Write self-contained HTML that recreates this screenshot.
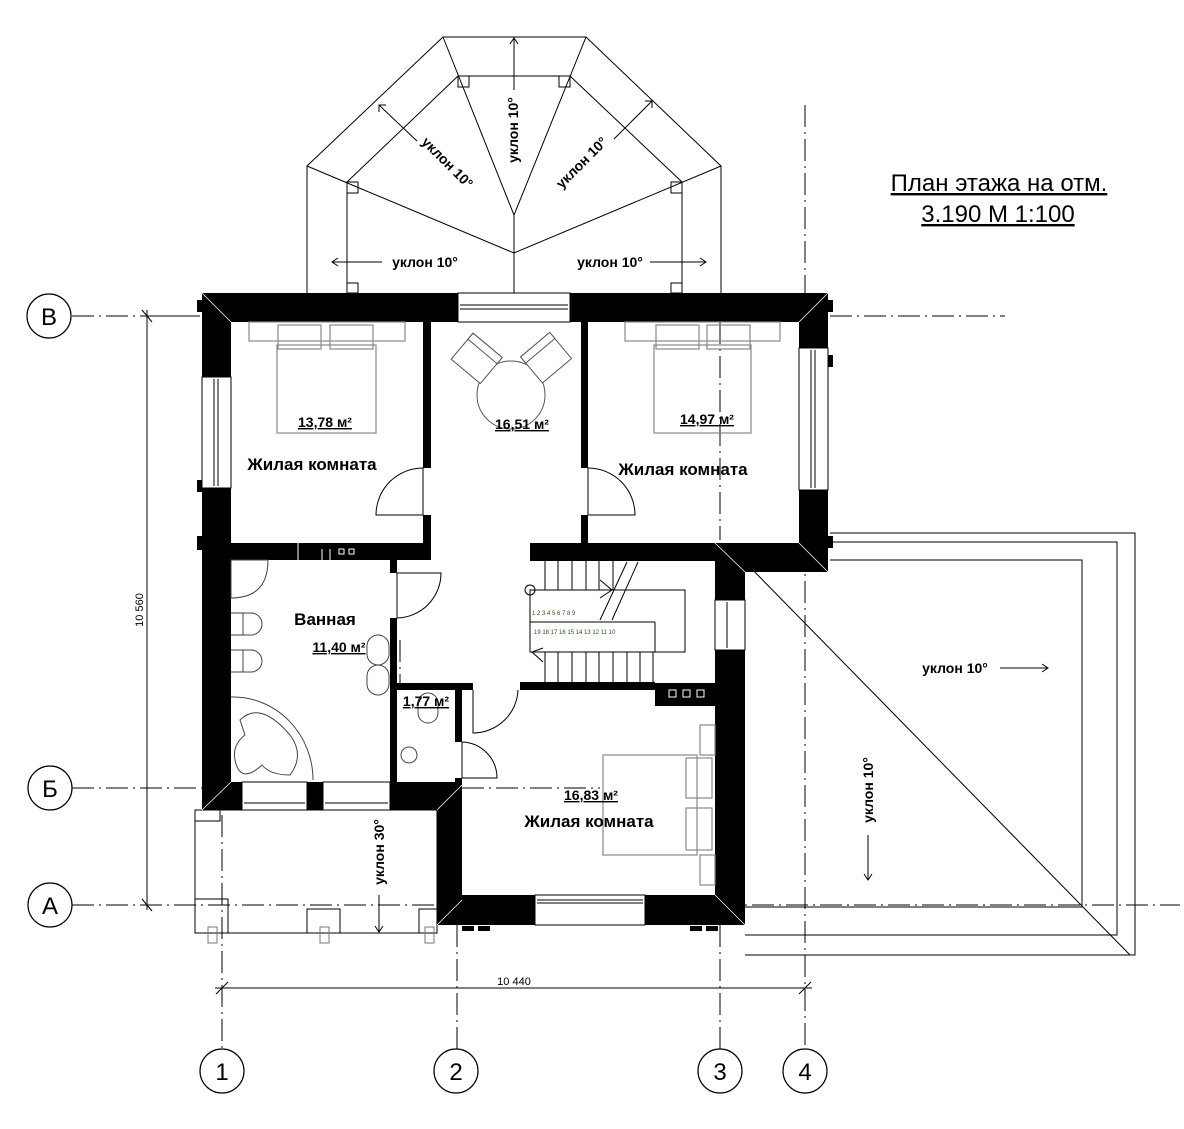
<!DOCTYPE html>
<html><head><meta charset="utf-8"><style>
html,body{margin:0;padding:0;background:#fff;}
svg{display:block;}
text{font-family:"Liberation Sans",sans-serif;}
.lb{font-weight:bold;font-size:17px;}
.ar{font-weight:bold;font-size:14px;text-decoration:underline;}
.ul{font-size:14px;font-weight:bold;}
</style></head><body>
<svg width="1184" height="1129" viewBox="0 0 1184 1129" xmlns="http://www.w3.org/2000/svg">
<rect width="1184" height="1129" fill="#fff"/>
<g stroke="#000" stroke-width="1" stroke-dasharray="22,5,2,5" fill="none">
<line x1="72" y1="316" x2="200" y2="316"/><line x1="830" y1="316" x2="1005" y2="316"/>
<line x1="72" y1="788" x2="205" y2="788"/><line x1="462" y1="788" x2="600" y2="788"/>
<line x1="72" y1="905" x2="1180" y2="905"/>
<line x1="222" y1="815" x2="222" y2="1050"/>
<line x1="457" y1="925" x2="457" y2="1050"/>
<line x1="720" y1="322" x2="720" y2="540"/><line x1="720" y1="925" x2="720" y2="1050"/>
<line x1="805" y1="105" x2="805" y2="1050"/>
<line x1="400" y1="640" x2="400" y2="690"/>
</g>
<g fill="#fff" stroke="#000" stroke-width="1.2">
<circle cx="49" cy="316" r="22"/><circle cx="50" cy="788" r="22"/><circle cx="50" cy="905" r="22"/>
<circle cx="222" cy="1071" r="22"/><circle cx="456" cy="1071" r="22"/><circle cx="720" cy="1071" r="22"/><circle cx="805" cy="1071" r="22"/>
</g>
<g font-size="24" text-anchor="middle" font-family="Liberation Sans">
<text x="49" y="325">В</text><text x="50" y="797">Б</text><text x="50" y="914">А</text>
<text x="222" y="1080">1</text><text x="456" y="1080">2</text><text x="720" y="1080">3</text><text x="805" y="1080">4</text>
</g>
<g stroke="#000" stroke-width="1">
<line x1="147" y1="310" x2="147" y2="910"/><line x1="140" y1="316" x2="200" y2="316"/>
<line x1="142" y1="310" x2="152" y2="322"/><line x1="142" y1="899" x2="152" y2="911"/>
<line x1="215" y1="988" x2="812" y2="988"/>
<line x1="216" y1="994" x2="228" y2="982"/><line x1="799" y1="994" x2="811" y2="982"/>
</g>
<text x="143" y="610" font-size="11" text-anchor="middle" transform="rotate(-90 143 610)">10 560</text>
<text x="514" y="985" font-size="11" text-anchor="middle">10 440</text>
<text x="999" y="191" font-size="24" text-anchor="middle" text-decoration="underline">План  этажа на отм.</text>
<text x="998" y="222" font-size="24" text-anchor="middle" text-decoration="underline">3.190 М 1:100</text>
<g stroke="#000" stroke-width="1" fill="none">
<polyline points="307,293 307,166 443,37 586,37 721,166 721,293"/>
<polyline points="347,293 347,182 458,76 570,76 682,182 682,293"/>
<polyline points="307,166 514,253 721,166"/>
<polyline points="443,37 514,215 586,37"/>
<line x1="514" y1="215" x2="514" y2="293"/>
<rect x="347" y="182" width="11" height="11"/><rect x="671" y="182" width="11" height="11"/>
<rect x="458" y="76" width="11" height="11"/><rect x="559" y="76" width="11" height="11"/>
<rect x="347" y="283" width="11" height="10"/><rect x="671" y="283" width="11" height="10"/>
<line x1="514" y1="90" x2="514" y2="38"/><polyline points="510,44 514,38 518,44"/>
<line x1="417" y1="141" x2="379" y2="105"/><polyline points="379,112 379,105 386,105"/>
<line x1="614" y1="139" x2="652" y2="101"/><polyline points="645,101 652,101 652,108"/>
<line x1="382" y1="262" x2="332" y2="262"/><polyline points="338,258 332,262 338,266"/>
<line x1="650" y1="262" x2="706" y2="262"/><polyline points="700,258 706,262 700,266"/>
</g>
<text class="ul" x="518" y="130" text-anchor="middle" transform="rotate(-90 518 130)">уклон 10°</text>
<text class="ul" x="444" y="166" text-anchor="middle" transform="rotate(45 444 166)">уклон 10°</text>
<text class="ul" x="585" y="166" text-anchor="middle" transform="rotate(-45 585 166)">уклон 10°</text>
<text class="ul" x="425" y="267" text-anchor="middle">уклон 10°</text>
<text class="ul" x="610" y="267" text-anchor="middle">уклон 10°</text>
<g stroke="#000" stroke-width="1" fill="none">
<polyline points="830,533 1135,533 1135,955 745,955"/>
<polyline points="830,542 1117,542 1117,935 745,935"/>
<polyline points="830,560 1082,560 1082,907 745,907"/>
<line x1="745" y1="562" x2="1130" y2="955"/>
<line x1="1000" y1="668" x2="1048" y2="668"/><polyline points="1042,664 1048,668 1042,672"/>
<line x1="868" y1="835" x2="868" y2="880"/><polyline points="864,874 868,880 872,874"/>
</g>
<text class="ul" x="955" y="673" text-anchor="middle">уклон 10°</text>
<text class="ul" x="873" y="790" text-anchor="middle" transform="rotate(-90 873 790)">уклон 10°</text>
<g stroke="#000" stroke-width="1" fill="none">
<rect x="195" y="810" width="242" height="123"/>
<rect x="195" y="810" width="25" height="11"/>
<rect x="195" y="899" width="33" height="34"/>
<rect x="307" y="909" width="33" height="24"/>
<rect x="419" y="909" width="18" height="24"/>
<g stroke="#777"><rect x="208" y="927" width="9" height="16"/><rect x="320" y="927" width="9" height="16"/><rect x="425" y="927" width="9" height="16"/></g>
<line x1="379" y1="895" x2="379" y2="932"/><polyline points="375,926 379,932 383,926"/>
</g>
<text class="ul" x="384" y="852" text-anchor="middle" transform="rotate(-90 384 852)">уклон 30°</text>
<g fill="#000">
<rect x="202" y="293" width="256" height="29"/><rect x="570" y="293" width="258" height="29"/>
<rect x="202" y="293" width="29" height="84"/><rect x="202" y="488" width="29" height="322"/>
<rect x="799" y="293" width="29" height="55"/><rect x="799" y="490" width="29" height="82"/>
<rect x="715" y="543" width="113" height="29"/>
<rect x="715" y="543" width="30" height="57"/><rect x="715" y="650" width="30" height="275"/>
<rect x="423" y="322" width="8" height="146"/><rect x="423" y="515" width="8" height="45"/>
<rect x="581" y="322" width="7" height="146"/><rect x="581" y="515" width="7" height="30"/>
<rect x="231" y="543" width="200" height="17"/>
<rect x="530" y="543" width="190" height="18"/>
<rect x="390" y="557" width="7" height="16"/><rect x="390" y="618" width="7" height="172"/>
<rect x="390" y="683" width="83" height="7"/><rect x="520" y="682" width="135" height="8"/>
<rect x="655" y="683" width="60" height="23"/>
<rect x="455" y="690" width="7" height="52"/><rect x="455" y="778" width="7" height="12"/>
<rect x="202" y="782" width="40" height="28"/><rect x="307" y="782" width="16" height="28"/><rect x="390" y="782" width="72" height="28"/>
<rect x="437" y="782" width="25" height="143"/>
<rect x="437" y="895" width="98" height="30"/><rect x="645" y="895" width="100" height="30"/>
</g>
<g stroke="#fff" stroke-width="0.8">
<line x1="202" y1="293" x2="231" y2="322"/><line x1="828" y1="293" x2="799" y2="322"/>
<line x1="828" y1="572" x2="799" y2="543"/><line x1="715" y1="543" x2="745" y2="572"/>
<line x1="437" y1="925" x2="462" y2="900"/><line x1="745" y1="925" x2="715" y2="895"/>
<line x1="437" y1="810" x2="462" y2="785"/><line x1="202" y1="810" x2="231" y2="782"/>
</g>
<g fill="none" stroke="#fff" stroke-width="1">
<line x1="298" y1="543" x2="298" y2="560"/><line x1="322" y1="549" x2="322" y2="560"/><line x1="330" y1="549" x2="330" y2="560"/>
<rect x="339" y="549" width="5" height="5"/><rect x="349" y="549" width="5" height="5"/>
<rect x="669" y="690" width="7" height="7"/><rect x="683" y="690" width="7" height="7"/><rect x="697" y="690" width="7" height="7"/>
</g>
<g stroke="#000" stroke-width="1" fill="#fff">
<rect x="458" y="293" width="112" height="29"/><line x1="460" y1="305" x2="568" y2="305"/><line x1="460" y1="309" x2="568" y2="309"/>
<rect x="202" y="377" width="29" height="111"/><line x1="214" y1="379" x2="214" y2="486"/><line x1="218" y1="379" x2="218" y2="486"/>
<rect x="799" y="348" width="29" height="142"/><line x1="811" y1="350" x2="811" y2="488"/><line x1="815" y1="350" x2="815" y2="488"/>
<rect x="715" y="600" width="30" height="50"/><line x1="727" y1="602" x2="727" y2="648"/>
<rect x="535" y="895" width="110" height="30"/><line x1="537" y1="900" x2="643" y2="900"/><line x1="537" y1="903" x2="643" y2="903"/>
<rect x="242" y="782" width="65" height="28"/><line x1="244" y1="803" x2="305" y2="803"/>
<rect x="323" y="782" width="67" height="28"/><line x1="325" y1="803" x2="388" y2="803"/>
</g>
<g fill="#000"><rect x="197" y="300" width="5" height="12"/><rect x="197" y="480" width="5" height="12"/><rect x="197" y="536" width="5" height="14"/><rect x="828" y="300" width="5" height="12"/><rect x="828" y="355" width="5" height="12"/><rect x="828" y="536" width="5" height="12"/>
<rect x="462" y="926" width="12" height="5"/><rect x="478" y="926" width="12" height="5"/><rect x="690" y="926" width="12" height="5"/><rect x="706" y="926" width="12" height="5"/></g>
<g stroke="#000" stroke-width="1" fill="none">
<path d="M423,468 A47,47 0 0 0 376,515 L423,515"/><line x1="423" y1="468" x2="423" y2="515"/>
<path d="M588,468 A47,47 0 0 1 635,515 L588,515"/><line x1="588" y1="468" x2="588" y2="515"/>
<path d="M397,573 L441,573 A45,45 0 0 1 397,618"/><line x1="397" y1="573" x2="397" y2="618"/>
<path d="M473,690 L473,733 A45,45 0 0 0 518,690"/>
<path d="M462,742 A36,36 0 0 1 497,778 L462,778"/><line x1="462" y1="742" x2="462" y2="778"/>
</g>
<g stroke="#888" stroke-width="1.2" fill="none">
<rect x="249" y="322" width="156" height="19"/>
<rect x="278" y="325" width="43" height="24"/><rect x="330" y="325" width="43" height="24"/>
<rect x="277" y="345" width="99" height="88"/>
<rect x="625" y="322" width="155" height="19"/>
<rect x="656" y="325" width="43" height="24"/><rect x="707" y="325" width="43" height="24"/>
<rect x="654" y="345" width="97" height="88"/>
<rect x="603" y="755" width="94" height="100"/>
<rect x="686" y="758" width="26" height="40"/><rect x="686" y="808" width="26" height="42"/>
<rect x="700" y="725" width="15" height="30"/><rect x="700" y="855" width="15" height="30"/>
</g>
<g stroke="#555" stroke-width="1" fill="#fff">
<circle cx="511" cy="395" r="34"/>
<g transform="rotate(40 474 360)"><rect x="456" y="340" width="38" height="34"/><rect x="456" y="340" width="38" height="8"/></g>
<g transform="rotate(-40 548 360)"><rect x="529" y="340" width="38" height="34"/><rect x="529" y="340" width="38" height="8"/></g>
</g>
<g stroke="#444" stroke-width="1" fill="none">
<path d="M231,560 L268,560 Q268,598 231,598 Z"/>
<path d="M231,613 h12 v22 h-12 M243,613 h8 a11,11 0 0 1 0,22 h-8"/>
<path d="M231,650 h12 v22 h-12 M243,650 h8 a11,11 0 0 1 0,22 h-8"/>
<path d="M231,697 A80,83 0 0 1 313,780"/>
<path d="M240,720 Q260,700 290,735 Q305,755 290,775 Q270,775 262,765 Q240,785 235,760 Q232,745 245,735 Z"/>
<rect x="367" y="635" width="22" height="30" rx="11"/><rect x="367" y="665" width="22" height="30" rx="11"/>
<rect x="418" y="693" width="20" height="30" rx="10"/>
<circle cx="409" cy="755" r="8"/>
</g>
<g stroke="#000" stroke-width="1" fill="none">
<rect x="530" y="590" width="155" height="62"/>
<line x1="530" y1="622" x2="655" y2="622"/><line x1="655" y1="622" x2="655" y2="652"/>
<line x1="545" y1="561" x2="545" y2="590"/><line x1="558" y1="561" x2="558" y2="590"/><line x1="572" y1="561" x2="572" y2="590"/><line x1="586" y1="561" x2="586" y2="590"/><line x1="599" y1="561" x2="599" y2="590"/><line x1="613" y1="561" x2="613" y2="590"/>
<line x1="545" y1="652" x2="545" y2="682"/><line x1="558" y1="652" x2="558" y2="682"/><line x1="572" y1="652" x2="572" y2="682"/><line x1="586" y1="652" x2="586" y2="682"/><line x1="599" y1="652" x2="599" y2="682"/><line x1="613" y1="652" x2="613" y2="682"/><line x1="627" y1="652" x2="627" y2="682"/><line x1="640" y1="652" x2="640" y2="682"/><line x1="653" y1="652" x2="653" y2="682"/>
<line x1="627" y1="562" x2="600" y2="620"/><line x1="638" y1="562" x2="612" y2="620"/>
<polyline points="600,580 612,590 600,598"/>
<polyline points="543,648 532,652 543,662"/>
<circle cx="530" cy="590" r="5"/>
</g>
<g fill="#2a5a1a" font-size="6" font-family="Liberation Sans">
<text x="532" y="615">1 2 3 4 5 6 7 8 9</text>
<text x="534" y="634">19 18 17 16 15 14 13 12 11 10</text>
</g>
<text class="lb" x="312" y="470" text-anchor="middle">Жилая комната</text>
<text class="lb" x="683" y="475" text-anchor="middle">Жилая комната</text>
<text class="lb" x="589" y="827" text-anchor="middle">Жилая комната</text>
<text class="lb" x="325" y="625" text-anchor="middle" font-size="19">Ванная</text>
<text class="ar" x="325" y="427" text-anchor="middle">13,78 м²</text>
<text class="ar" x="522" y="429" text-anchor="middle">16,51 м²</text>
<text class="ar" x="707" y="424" text-anchor="middle">14,97 м²</text>
<text class="ar" x="339" y="652" text-anchor="middle">11,40 м²</text>
<text class="ar" x="426" y="706" text-anchor="middle">1,77 м²</text>
<text class="ar" x="591" y="800" text-anchor="middle">16,83 м²</text>
</svg>
</body></html>
